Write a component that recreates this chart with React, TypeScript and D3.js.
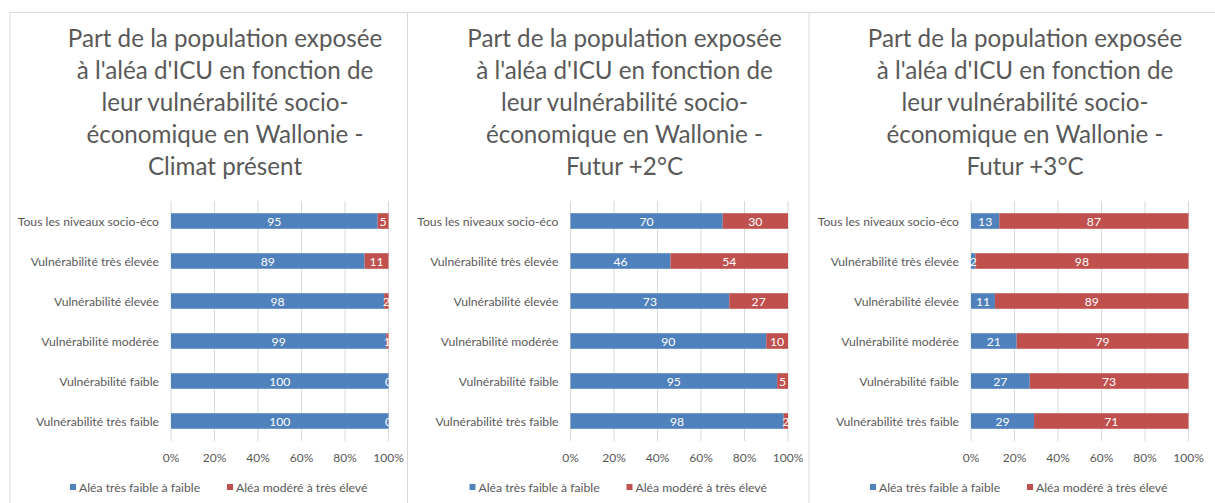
import React from "react";
import * as d3 from "d3";

const categories = [
  "Tous les niveaux socio-éco",
  "Vulnérabilité très élevée",
  "Vulnérabilité élevée",
  "Vulnérabilité modérée",
  "Vulnérabilité faible",
  "Vulnérabilité très faible",
];

const titleCommon = [
  "Part de la population exposée",
  "à l'aléa d'ICU en fonction de",
  "leur vulnérabilité socio-",
  "économique en Wallonie -",
];
const scenarioTitles = ["Climat présent", "Futur +2°C", "Futur +3°C"];

const lowPresent = [95, 89, 98, 99, 100, 100];
const highPresent = [5, 11, 2, 1, 0, 0];
const lowPlus2 = [70, 46, 73, 90, 95, 98];
const highPlus2 = [30, 54, 27, 10, 5, 2];
const lowPlus3 = [13, 2, 11, 21, 27, 29];
const highPlus3 = [87, 98, 89, 79, 73, 71];

const seriesNames = ["Aléa très faible à faible", "Aléa modéré à très élevé"];
const ticks = [0, 20, 40, 60, 80, 100];

const panels = [
  { title: scenarioTitles[0], low: lowPresent, high: highPresent },
  { title: scenarioTitles[1], low: lowPlus2, high: highPlus2 },
  { title: scenarioTitles[2], low: lowPlus3, high: highPlus3 },
];

const W = 1215;
const H = 503;
const panelX = [10, 409.5, 810];
const borderX = [10, 407.5, 809];
const BLUE = "#4F81BD";
const RED = "#C0504D";
const GRID = "#D9D9D9";
const TEXT = "#595959";
const FONT = "Lato, 'Open Sans', sans-serif";

function Panel({ x0, data }: { x0: number; data: typeof panels[0] }) {
  const x = d3.scaleLinear().domain([0, 100]).range([x0 + 161, x0 + 378.5]);
  const y = d3
    .scaleBand<string>()
    .domain(categories)
    .range([201, 441])
    .paddingInner(0.61)
    .paddingOuter(0.305);
  const titleLines = [...titleCommon, data.title];
  const tcx = x0 + 215;
  return (
    <g>
      {titleLines.map((t, i) => (
        <text
          key={i}
          x={tcx}
          y={37 + i * 32}
          textAnchor="middle"
          dominantBaseline="central"
          fontSize={24.2}
          fill={TEXT}
          fontFamily={FONT}
        >
          {t}
        </text>
      ))}
      {ticks.map((t) => (
        <line
          key={t}
          x1={x(t)}
          x2={x(t)}
          y1={201}
          y2={441}
          stroke={GRID}
          strokeWidth={1}
        />
      ))}
      {categories.map((c, i) => {
        const yy = y(c)!;
        const bw = y.bandwidth();
        const lo = data.low[i];
        const hi = data.high[i];
        return (
          <g key={c}>
            <rect x={x(0)} y={yy} width={x(lo) - x(0)} height={bw} fill={BLUE} />
            <rect x={x(lo)} y={yy} width={x(lo + hi) - x(lo)} height={bw} fill={RED} />
            <text
              x={x(0) - 12}
              y={yy + bw / 2}
              textAnchor="end"
              dominantBaseline="central"
              fontSize={12.2}
              fill={TEXT}
              fontFamily={FONT}
            >
              {c}
            </text>
          </g>
        );
      })}
      {categories.map((c, i) => {
        const yy = y(c)! + y.bandwidth() / 2;
        const lo = data.low[i];
        const hi = data.high[i];
        return (
          <g key={"l" + c}>
            <text
              x={x(lo / 2)}
              y={yy}
              textAnchor="middle"
              dominantBaseline="central"
              fontSize={12.2}
              fill="#FFFFFF"
              fontFamily={FONT}
            >
              {lo}
            </text>
            <text
              x={x(lo + hi / 2)}
              y={yy}
              textAnchor="middle"
              dominantBaseline="central"
              fontSize={12.2}
              fill="#FFFFFF"
              fontFamily={FONT}
            >
              {hi}
            </text>
          </g>
        );
      })}
      {ticks.map((t) => (
        <text
          key={"t" + t}
          x={x(t)}
          y={457}
          textAnchor="middle"
          dominantBaseline="central"
          fontSize={12}
          fill={TEXT}
          fontFamily={FONT}
        >
          {t + "%"}
        </text>
      ))}
      {seriesNames.map((s, i) => {
        const lx = x0 + (i === 0 ? 60 : 217);
        return (
          <g key={s}>
            <rect x={lx} y={484} width={6} height={6} fill={i === 0 ? BLUE : RED} />
            <text
              x={lx + 9}
              y={487}
              dominantBaseline="central"
              fontSize={12.2}
              fill={TEXT}
              fontFamily={FONT}
            >
              {s}
            </text>
          </g>
        );
      })}
    </g>
  );
}

export default function App() {
  return (
    <svg
      width={W}
      height={H}
      style={{ position: "absolute", left: 0, top: 0, background: "#fff" }}
    >
      <rect x={0} y={0} width={W} height={H} fill="#fff" />
      <line x1={borderX[0]} x2={W} y1={12.5} y2={12.5} stroke={GRID} />
      {borderX.map((bx) => (
        <line key={bx} x1={bx} x2={bx} y1={12.5} y2={H} stroke={GRID} />
      ))}
      {panels.map((p, i) => (
        <Panel key={i} x0={panelX[i]} data={p} />
      ))}
    </svg>
  );
}
